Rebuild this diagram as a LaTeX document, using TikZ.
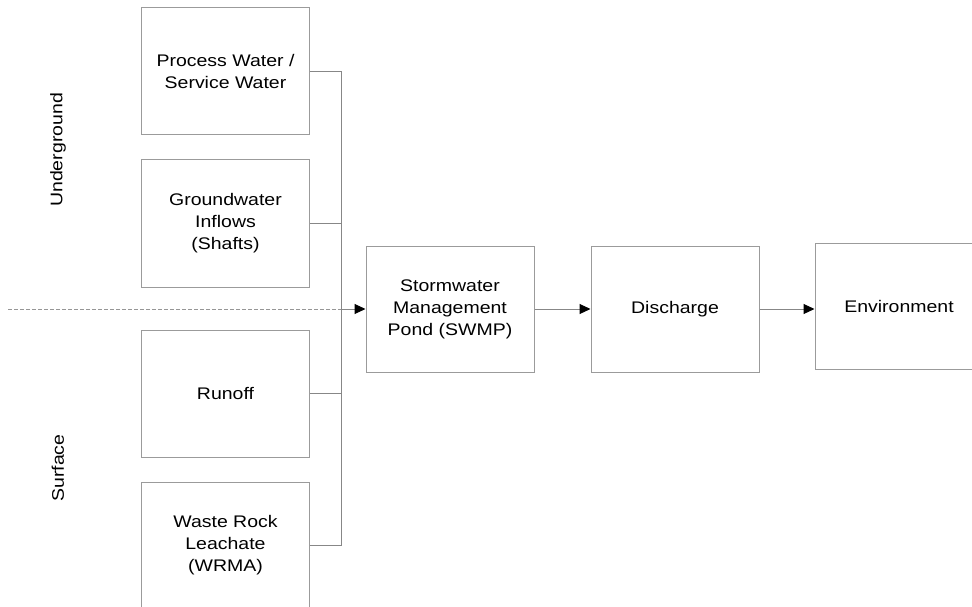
\documentclass[tikz,border=0pt]{standalone}
\usepackage{fontspec}
\setmainfont[FakeStretch=1.16]{Liberation Sans}
\usetikzlibrary{arrows.meta}
\definecolor{boxgray}{RGB}{155,155,155}
\definecolor{linegray}{RGB}{135,135,135}
\definecolor{dashgray}{RGB}{150,150,150}
\tikzset{
  flowbox/.style={draw=boxgray, line width=1pt, minimum width=168pt, minimum height=126pt, inner sep=0pt, align=center, font=\fontsize{16.8}{22}\selectfont},
  link/.style={draw=linegray, line width=1pt},
  flowarrow/.style={draw=linegray, line width=1pt, -{Triangle[length=11pt,width=10pt,black]}},
  zonelabel/.style={rotate=90, font=\fontsize{16.8}{22}\selectfont, inner sep=0pt}
}
\begin{document}
\begin{tikzpicture}[x=1pt,y=-1pt]
\clip (0,0) rectangle (972,607);
\fill[white] (0,0) rectangle (972,607);
% source boxes
\node[flowbox, minimum height=127pt] (pw) at (225.5,71.5) {Process Water /\\Service Water};
\node[flowbox, minimum height=127pt] (gw) at (225.5,223.5) {Groundwater\\Inflows\\(Shafts)};
\node[flowbox, minimum height=127pt] (ro) at (225.5,393.5) {Runoff};
\node[flowbox] (wr) at (225.5,545) {Waste Rock\\Leachate\\(WRMA)};
% chain
\node[flowbox] (swmp) at (450,309) {Stormwater\\Management\\Pond (SWMP)};
\node[flowbox] (dis) at (675,309) {Discharge};
\node[flowbox] (env) at (899,306) {Environment};
% zone labels
\node[zonelabel] (ug) at (58,150) {Underground};
\node[zonelabel] (sf) at (58,468) {Surface};
% collector
\coordinate (top) at (341,71.5);
\coordinate (bot) at (341,545);
\coordinate (junc) at (341,309);
\coordinate (dstart) at (8,309);
\draw[link] (pw.east) -- (top) -- (bot) -- (wr.east);
\draw[link] (gw.east) -- (gw.east -| top);
\draw[link] (ro.east) -- (ro.east -| top);
\draw[draw=dashgray, line width=1pt, dash pattern=on 4pt off 2pt] (dstart) -- (junc);
\draw[flowarrow] (junc) -- (swmp.west);
\draw[flowarrow] (swmp.east) -- (dis.west);
\draw[flowarrow] (dis.east) -- (dis.east -| env.west);
\end{tikzpicture}
\end{document}
